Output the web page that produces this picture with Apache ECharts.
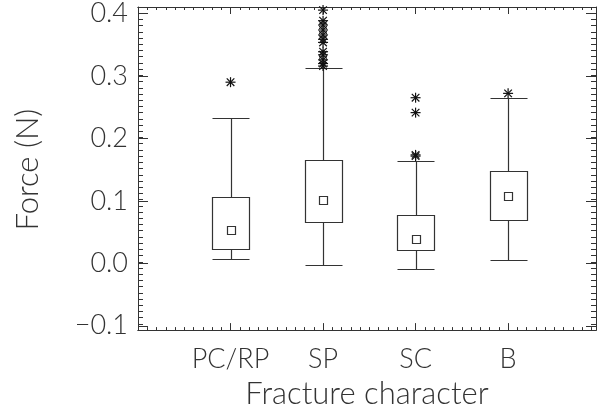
<!DOCTYPE html>
<html>
<head>
<meta charset="utf-8">
<script src="https://cdn.jsdelivr.net/npm/echarts@6/dist/echarts.min.js"></script>
<style>
html,body{margin:0;padding:0;background:#fff;}
#chart{width:597px;height:414px;}
</style>
</head>
<body>
<div id="chart"></div>
<script>
// ---- data ----
const categories = ['PC/RP', 'SP', 'SC', 'B'];
const positions = [1, 2, 3, 4];
const whiskerLow = [0.005, -0.005, -0.012, 0.003];
const boxLow = [0.021, 0.064, 0.019, 0.068];
const means = [0.051, 0.100, 0.036, 0.106];
const boxHigh = [0.105, 0.163, 0.075, 0.146];
const whiskerHigh = [0.232, 0.312, 0.162, 0.264];
const outliersPCRP = [0.289];
const outliersSP = [0.405, 0.388, 0.381, 0.373, 0.365, 0.358, 0.353, 0.338, 0.333, 0.325, 0.319, 0.315];
const outliersSC = [0.264, 0.240, 0.172, 0.170];
const outliersB = [0.271];
const yTickValues = [-0.1, 0.0, 0.1, 0.2, 0.3, 0.4];

// ---- layout ----
const W = 597, H = 414;
const gLeft = 138, gRight = 1, gTop = 7, gBottom = 82;
const yMin = -0.11, yMax = 0.41, xMin = 0, xMax = 4.95;
const plotH = H - gTop - gBottom;
const g2Top = gTop + (yMax - yTickValues[yTickValues.length - 1]) / (yMax - yMin) * plotH;
const g2Bottom = gBottom + (yTickValues[0] - yMin) / (yMax - yMin) * plotH;
const boxWidth = 0.4;
const ink = '#333';
const textInk = '#333';
const font = 'Lato';
const fontWeight = 300;

const boxData = positions.map((p, i) => [p, whiskerLow[i], boxLow[i], means[i], boxHigh[i], whiskerHigh[i]]);
const outlierData = [];
[outliersPCRP, outliersSP, outliersSC, outliersB].forEach((arr, i) => {
  arr.forEach(v => outlierData.push([positions[i], v]));
});

const px = v => Math.round(v) + 0.5;

function renderBox(params, api) {
  const x = api.value(0);
  const lo = api.coord([x, api.value(1)]);
  const q1 = api.coord([x, api.value(2)]);
  const mn = api.coord([x, api.value(3)]);
  const q3 = api.coord([x, api.value(4)]);
  const hi = api.coord([x, api.value(5)]);
  const half = api.size([boxWidth, 0])[0] / 2;
  const cx = px(lo[0]);
  const l = px(lo[0] - half), r = px(lo[0] + half);
  const st = { stroke: ink, lineWidth: 1.2, fill: null };
  const line = (x1, y1, x2, y2) => ({ type: 'line', shape: { x1, y1, x2, y2 }, style: st });
  const ms = 9;
  return {
    type: 'group',
    children: [
      { type: 'rect', shape: { x: l, y: px(q3[1]), width: r - l, height: px(q1[1]) - px(q3[1]) }, style: { stroke: ink, lineWidth: 1.2, fill: 'none' } },
      line(cx, px(q3[1]), cx, px(hi[1])),
      line(cx, px(q1[1]), cx, px(lo[1])),
      line(l, px(hi[1]), r, px(hi[1])),
      line(l, px(lo[1]), r, px(lo[1])),
      { type: 'rect', shape: { x: cx - Math.floor(ms / 2), y: px(mn[1]) - Math.floor(ms / 2), width: ms - 1, height: ms - 1 }, style: { stroke: ink, lineWidth: 1.2, fill: 'none' } }
    ]
  };
}

function renderStar(params, api) {
  const c = api.coord([api.value(0), api.value(1)]);
  const s = 5, d = 3.8;
  const st = { stroke: '#111', lineWidth: 1.2 };
  return {
    type: 'group',
    children: [
      { type: 'line', shape: { x1: c[0] - s, y1: c[1], x2: c[0] + s, y2: c[1] }, style: st },
      { type: 'line', shape: { x1: c[0], y1: c[1] - s, x2: c[0], y2: c[1] + s }, style: st },
      { type: 'line', shape: { x1: c[0] - d, y1: c[1] - d, x2: c[0] + d, y2: c[1] + d }, style: st },
      { type: 'line', shape: { x1: c[0] - d, y1: c[1] + d, x2: c[0] + d, y2: c[1] - d }, style: st }
    ]
  };
}

const lineStyle = { color: ink, width: 1 };
function xAx(position, interval, len, showLabel) {
  return {
    type: 'value', gridIndex: 0, position, min: xMin, max: xMax, interval,
    axisLine: { show: true, onZero: false, lineStyle },
    axisTick: { show: true, inside: true, length: len, lineStyle },
    splitLine: { show: false },
    axisLabel: showLabel ? {
      show: true, margin: 16, color: textInk, fontFamily: font, fontWeight, fontSize: 27,
      showMinLabel: true, showMaxLabel: false,
      formatter: v => { const i = positions.indexOf(Math.round(v * 1000) / 1000); return i >= 0 ? categories[i] : ''; }
    } : { show: false },
    name: showLabel ? 'Fracture character' : '',
    nameLocation: 'middle', nameGap: 47,
    nameTextStyle: { color: textInk, fontFamily: font, fontWeight, fontSize: 31 }
  };
}
function yMinorAx(position) {
  return {
    type: 'value', gridIndex: 0, position, min: yMin, max: yMax, interval: 0.01,
    axisLine: { show: true, onZero: false, lineStyle },
    axisTick: { show: true, inside: true, length: 5, lineStyle },
    splitLine: { show: false }, axisLabel: { show: false }
  };
}
function yMajorAx(position, showLabel) {
  return {
    type: 'value', gridIndex: 1, position,
    min: yTickValues[0], max: yTickValues[yTickValues.length - 1], interval: 0.1,
    axisLine: { show: false },
    axisTick: { show: true, inside: true, length: 10, lineStyle },
    splitLine: { show: false },
    axisLabel: showLabel ? {
      show: true, margin: 10, color: textInk, fontFamily: font, fontWeight, fontSize: 27,
      formatter: v => (v < 0 ? '\u2212' : '') + Math.abs(v).toFixed(1)
    } : { show: false },
    name: showLabel ? 'Force (N)' : '',
    nameLocation: 'middle', nameGap: 95, nameRotate: 90,
    nameTextStyle: { color: textInk, fontFamily: font, fontWeight, fontSize: 31 }
  };
}

const chart = echarts.init(document.getElementById('chart'), null, { renderer: 'canvas' });
chart.setOption({
  animation: false,
  backgroundColor: '#fff',
  grid: [
    { left: gLeft, right: gRight, top: gTop, bottom: gBottom, containLabel: false },
    { left: gLeft, right: gRight, top: g2Top, bottom: g2Bottom, containLabel: false }
  ],
  xAxis: [
    xAx('bottom', 1, 7, true),
    xAx('bottom', 0.1, 3, false),
    xAx('top', 1, 7, false),
    xAx('top', 0.1, 3, false),
    { type: 'value', gridIndex: 1, min: xMin, max: xMax, show: false }
  ],
  yAxis: [
    yMinorAx('left'),
    yMinorAx('right'),
    yMajorAx('left', true),
    yMajorAx('right', false)
  ],
  series: [
    { type: 'custom', xAxisIndex: 0, yAxisIndex: 0, renderItem: renderBox, data: boxData, clip: false },
    { type: 'custom', xAxisIndex: 0, yAxisIndex: 0, renderItem: renderStar, data: outlierData, clip: false, z: 3 }
  ]
});
</script>
</body>
</html>
